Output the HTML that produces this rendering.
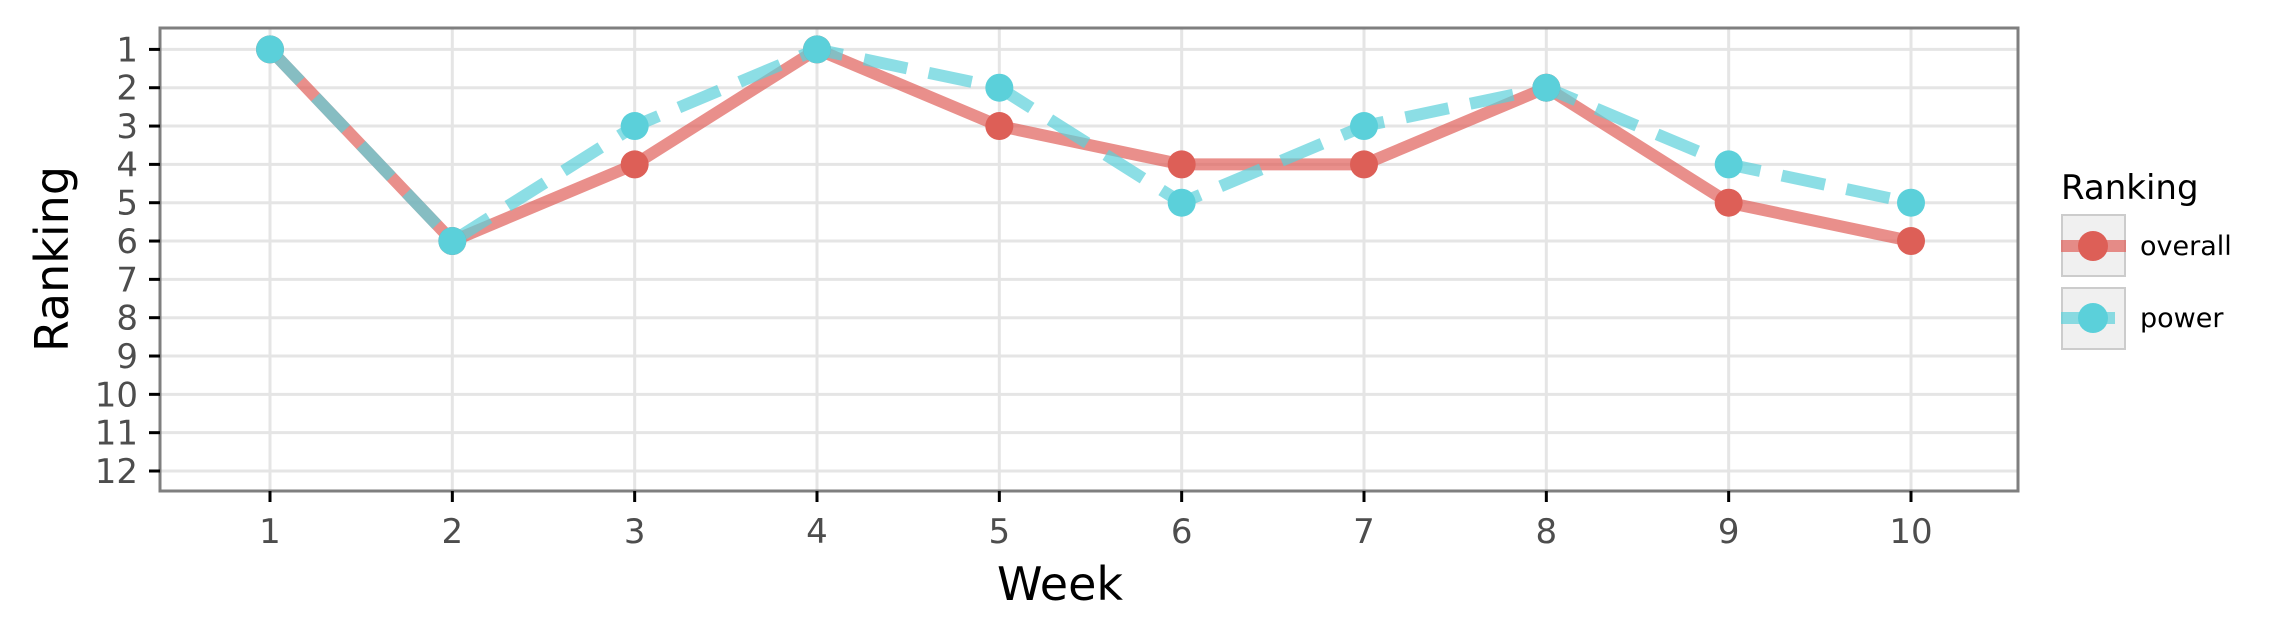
<!DOCTYPE html>
<html><head><meta charset="utf-8"><style>
html,body{margin:0;padding:0;background:#fff;}
svg{display:block;font-family:"DejaVu Sans","Liberation Sans",sans-serif;}
</style></head><body>
<svg id="chart" width="2276" height="641" viewBox="0 0 2276 641" xmlns="http://www.w3.org/2000/svg">
<rect x="160" y="28" width="1858" height="463" fill="#fff"/>
<g id="grid"></g>
<g id="series"></g>
<rect x="160" y="28" width="1858" height="463" fill="none" stroke="#7f7f7f" stroke-width="3"/>
<g id="axes"></g>
<text x="1060" y="600" font-size="46" text-anchor="middle" fill="#000">Week</text>
<text transform="translate(68,259) rotate(-90)" font-size="46" text-anchor="middle" fill="#000">Ranking</text>
<g>
<text x="2061" y="199" font-size="34" fill="#000">Ranking</text>
<g>
<rect x="2062" y="215" width="63" height="61" fill="#f0f0f0" stroke="#cccccc" stroke-width="2"/>
<line x1="2061" y1="246" x2="2126" y2="246" stroke="#e0605a" stroke-opacity="0.7" stroke-width="12"/>
<circle cx="2093" cy="246" r="15" fill="#dd5f57"/>
<text x="2140" y="255" font-size="27" fill="#000">overall</text>
</g>
<g>
<rect x="2062" y="288" width="63" height="61" fill="#f0f0f0" stroke="#cccccc" stroke-width="2"/>
<line x1="2061" y1="318" x2="2115" y2="318" stroke="#5bd0da" stroke-opacity="0.7" stroke-width="12"/>
<circle cx="2093" cy="318" r="15" fill="#5bd0da"/>
<text x="2140" y="327" font-size="27" fill="#000">power</text>
</g>
</g>
</svg>
<script>
const weeks = [1,2,3,4,5,6,7,8,9,10];
const overall = [1,6,4,1,3,4,4,2,5,6];
const power = [1,6,3,1,2,5,3,2,4,5];
const yTicks = [1,2,3,4,5,6,7,8,9,10,11,12];
const xTicks = [1,2,3,4,5,6,7,8,9,10];
const NS = "http://www.w3.org/2000/svg";
function xs(w){ return 270 + (w-1)*(1911-270)/9; }
function ys(r){ return 49.4 + (r-1)*(471-49.4)/11; }
function mk(tag, attrs, parent){
  const e = document.createElementNS(NS, tag);
  for (const k in attrs) e.setAttribute(k, attrs[k]);
  parent.appendChild(e);
  return e;
}
const grid = document.getElementById('grid');
const axes = document.getElementById('axes');
const series = document.getElementById('series');
yTicks.forEach(t => {
  const l = mk('line', {x1:160, x2:2018, y1:ys(t), y2:ys(t), stroke:'#e5e5e5', 'stroke-width':3}, grid);
  
  
  const tk = mk('line', {x1:149, x2:160, y1:ys(t), y2:ys(t), stroke:'#000', 'stroke-width':3}, axes);
  
  
  const tx = mk('text', {x:138, y:ys(t)+12, 'font-size':34, 'text-anchor':'end', fill:'#4d4d4d'}, axes);
  tx.textContent = t;
  
  
});
xTicks.forEach(t => {
  const l = mk('line', {x1:xs(t), x2:xs(t), y1:28, y2:491, stroke:'#e5e5e5', 'stroke-width':3}, grid);
  
  
  const tk = mk('line', {x1:xs(t), x2:xs(t), y1:491, y2:502, stroke:'#000', 'stroke-width':3}, axes);
  
  
  const tx = mk('text', {x:xs(t), y:543, 'font-size':34, 'text-anchor':'middle', fill:'#4d4d4d'}, axes);
  tx.textContent = t;
  
  
});
function pts(vals){ return weeks.map((w,i)=> xs(w)+','+ys(vals[i])).join(' '); }
const lo = mk('polyline', {points:pts(overall), fill:'none', stroke:'#e0605a', 'stroke-opacity':0.7, 'stroke-width':12, 'stroke-linejoin':'round'}, series);


const lp = mk('polyline', {points:pts(power), fill:'none', stroke:'#5bd0da', 'stroke-opacity':0.7, 'stroke-width':12, 'stroke-dasharray':'44 22'}, series);


weeks.forEach((w,i) => {
  const c = mk('circle', {cx:xs(w), cy:ys(overall[i]), r:14, fill:'#dd5f57'}, series);
  
  
});
weeks.forEach((w,i) => {
  const c = mk('circle', {cx:xs(w), cy:ys(power[i]), r:14, fill:'#5bd0da'}, series);
  
  
});
</script>
</body></html>
